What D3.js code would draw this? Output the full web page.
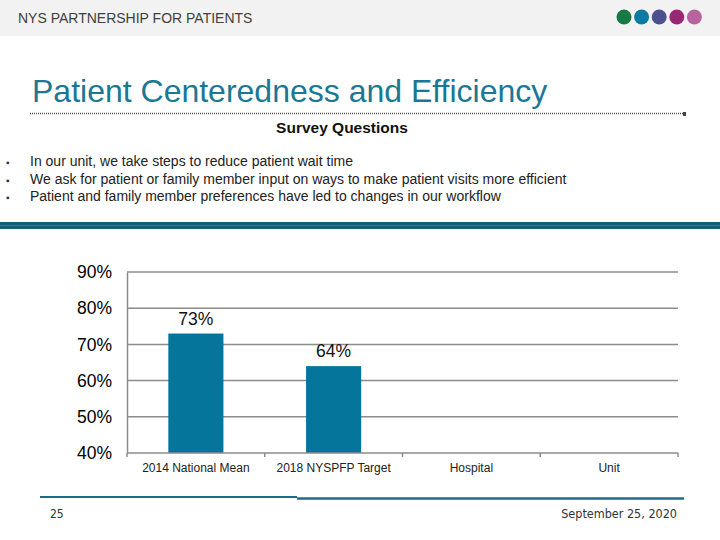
<!DOCTYPE html>
<html>
<head>
<meta charset="utf-8">
<script src="https://cdn.jsdelivr.net/npm/d3@7"></script>
<style>
  body { margin: 0; background: #fff; }
  svg { display: block; font-family: "Liberation Sans", Arial, sans-serif; }
</style>
</head>
<body>
<svg id="slide" width="720" height="540"></svg>
<script>
// chart data
const categories = ['2014 National Mean', '2018 NYSPFP Target', 'Hospital', 'Unit'];
const values = [73, 64, null, null];
const yTicks = [40, 50, 60, 70, 80, 90];
const questions = [
  'In our unit, we take steps to reduce patient wait time',
  'We ask for patient or family member input on ways to make patient visits more efficient',
  'Patient and family member preferences have led to changes in our workflow'
];
const dotColors = ['#177a45', '#0d7aa3', '#4d4f8f', '#9a2775', '#b6639f'];

const svg = d3.select('#slide');

// header band
svg.append('rect')
  .attr('width', 720).attr('height', 36)
  .attr('fill', '#f2f2f2');

svg.append('text')
  .attr('x', 18).attr('y', 23)
  .attr('font-size', 14)
  .attr('fill', '#404040')
  .text('NYS PARTNERSHIP FOR PATIENTS');

svg.selectAll('.dot')
  .data(dotColors)
  .join('circle')
  .attr('class', 'dot')
  .attr('cx', (d, i) => 624 + i * 17.6)
  .attr('cy', 17)
  .attr('r', 7.5)
  .attr('fill', d => d);

// title
svg.append('text')
  .attr('x', 32).attr('y', 102)
  .attr('font-size', 32)
  .attr('fill', '#1a7893')
  .text('Patient Centeredness and Efficiency');

svg.append('line')
  .attr('x1', 30).attr('x2', 684)
  .attr('y1', 113.5).attr('y2', 113.5)
  .attr('stroke', '#555')
  .attr('stroke-width', 1.5)
  .attr('stroke-dasharray', '1,1');
svg.append('rect')
  .attr('x', 683).attr('y', 112).attr('width', 3).attr('height', 4)
  .attr('fill', '#444');

// survey questions
svg.append('text')
  .attr('x', 342).attr('y', 133)
  .attr('text-anchor', 'middle')
  .attr('font-size', 15.5)
  .attr('font-weight', 'bold')
  .attr('fill', '#111')
  .text('Survey Questions');

const qG = svg.append('g');
qG.selectAll('.bullet')
  .data(questions)
  .join('text')
  .attr('class', 'bullet')
  .attr('x', 6)
  .attr('y', (d, i) => 166 + i * 17.5)
  .attr('font-size', 10)
  .attr('fill', '#333')
  .text('\u25AA');
qG.selectAll('.q')
  .data(questions)
  .join('text')
  .attr('class', 'q')
  .attr('x', 30)
  .attr('y', (d, i) => 166 + i * 17.5)
  .attr('font-size', 14)
  .attr('fill', '#222')
  .text(d => d);

// thick divider band
svg.append('rect')
  .attr('x', 0).attr('y', 222).attr('width', 720).attr('height', 7)
  .attr('fill', '#165c76');
svg.append('line')
  .attr('x1', 0).attr('x2', 720)
  .attr('y1', 225.5).attr('y2', 225.5)
  .attr('stroke', '#2a7f9c').attr('stroke-width', 1);

// chart
const margin = { left: 127, top: 272, right: 42, bottom: 87 };
const innerWidth = 720 - margin.left - margin.right;
const innerHeight = 540 - margin.top - margin.bottom;

const chart = svg.append('g')
  .attr('transform', `translate(${margin.left},${margin.top})`);

const xScale = d3.scaleBand()
  .domain(categories)
  .range([0, innerWidth])
  .paddingInner(0.6)
  .paddingOuter(0.3);

const yScale = d3.scaleLinear()
  .domain([40, 90])
  .range([innerHeight, 0]);

// gridlines
chart.selectAll('.grid')
  .data(yTicks.slice(1))
  .join('line')
  .attr('class', 'grid')
  .attr('x1', 0).attr('x2', innerWidth)
  .attr('y1', d => yScale(d)).attr('y2', d => yScale(d))
  .attr('stroke', '#8c8c8c')
  .attr('stroke-width', 1.5);

// y axis
const yAxis = d3.axisLeft(yScale)
  .tickValues(yTicks)
  .tickSize(0)
  .tickPadding(15)
  .tickFormat(d => d + '%');
const yAxisG = chart.append('g').call(yAxis);
yAxisG.select('.domain').attr('stroke', '#8c8c8c').attr('stroke-width', 1.5);
yAxisG.selectAll('text')
  .attr('font-size', 17.5)
  .attr('font-family', '"Liberation Sans", Arial, sans-serif')
  .attr('fill', '#000');

// bars
const barData = categories.map((c, i) => ({ cat: c, value: values[i] }))
  .filter(d => d.value != null);

chart.selectAll('.bar')
  .data(barData)
  .join('rect')
  .attr('class', 'bar')
  .attr('x', d => xScale(d.cat))
  .attr('width', xScale.bandwidth())
  .attr('y', d => yScale(d.value))
  .attr('height', d => innerHeight - yScale(d.value))
  .attr('fill', '#05759b');

chart.selectAll('.val')
  .data(barData)
  .join('text')
  .attr('class', 'val')
  .attr('x', d => xScale(d.cat) + xScale.bandwidth() / 2)
  .attr('y', d => yScale(d.value) - 9)
  .attr('text-anchor', 'middle')
  .attr('font-size', 17.5)
  .attr('fill', '#111')
  .text(d => d.value + '%');

// x axis with ticks at category boundaries
const step = innerWidth / categories.length;
const xAxisG = chart.append('g')
  .attr('transform', `translate(0,${innerHeight})`);
xAxisG.append('line')
  .attr('x1', 0).attr('x2', innerWidth)
  .attr('stroke', '#8c8c8c').attr('stroke-width', 1.5);
xAxisG.selectAll('.xtick')
  .data(d3.range(categories.length + 1))
  .join('line')
  .attr('class', 'xtick')
  .attr('x1', d => d * step).attr('x2', d => d * step)
  .attr('y1', 0).attr('y2', 4)
  .attr('stroke', '#8c8c8c').attr('stroke-width', 1.5);
xAxisG.selectAll('.xlab')
  .data(categories)
  .join('text')
  .attr('class', 'xlab')
  .attr('x', d => xScale(d) + xScale.bandwidth() / 2)
  .attr('y', 19)
  .attr('text-anchor', 'middle')
  .attr('font-size', 12)
  .attr('fill', '#222')
  .text(d => d);

// footer
svg.append('line')
  .attr('x1', 40).attr('x2', 297)
  .attr('y1', 497).attr('y2', 497)
  .attr('stroke', '#1a6f86').attr('stroke-width', 2);
svg.append('line')
  .attr('x1', 297).attr('x2', 684)
  .attr('y1', 498.5).attr('y2', 498.5)
  .attr('stroke', '#1a6f86').attr('stroke-width', 2.5);

svg.append('text')
  .attr('x', 50).attr('y', 518)
  .attr('font-size', 12)
  .attr('font-family', '"Liberation Sans Narrow", "DejaVu Sans Condensed", sans-serif')
  .attr('fill', '#333')
  .text('25');
svg.append('text')
  .attr('x', 677).attr('y', 518)
  .attr('text-anchor', 'end')
  .attr('font-size', 12.5)
  .attr('font-family', '"Liberation Sans Narrow", "DejaVu Sans Condensed", sans-serif')
  .attr('fill', '#333')
  .text('September 25, 2020');
</script>
</body>
</html>
